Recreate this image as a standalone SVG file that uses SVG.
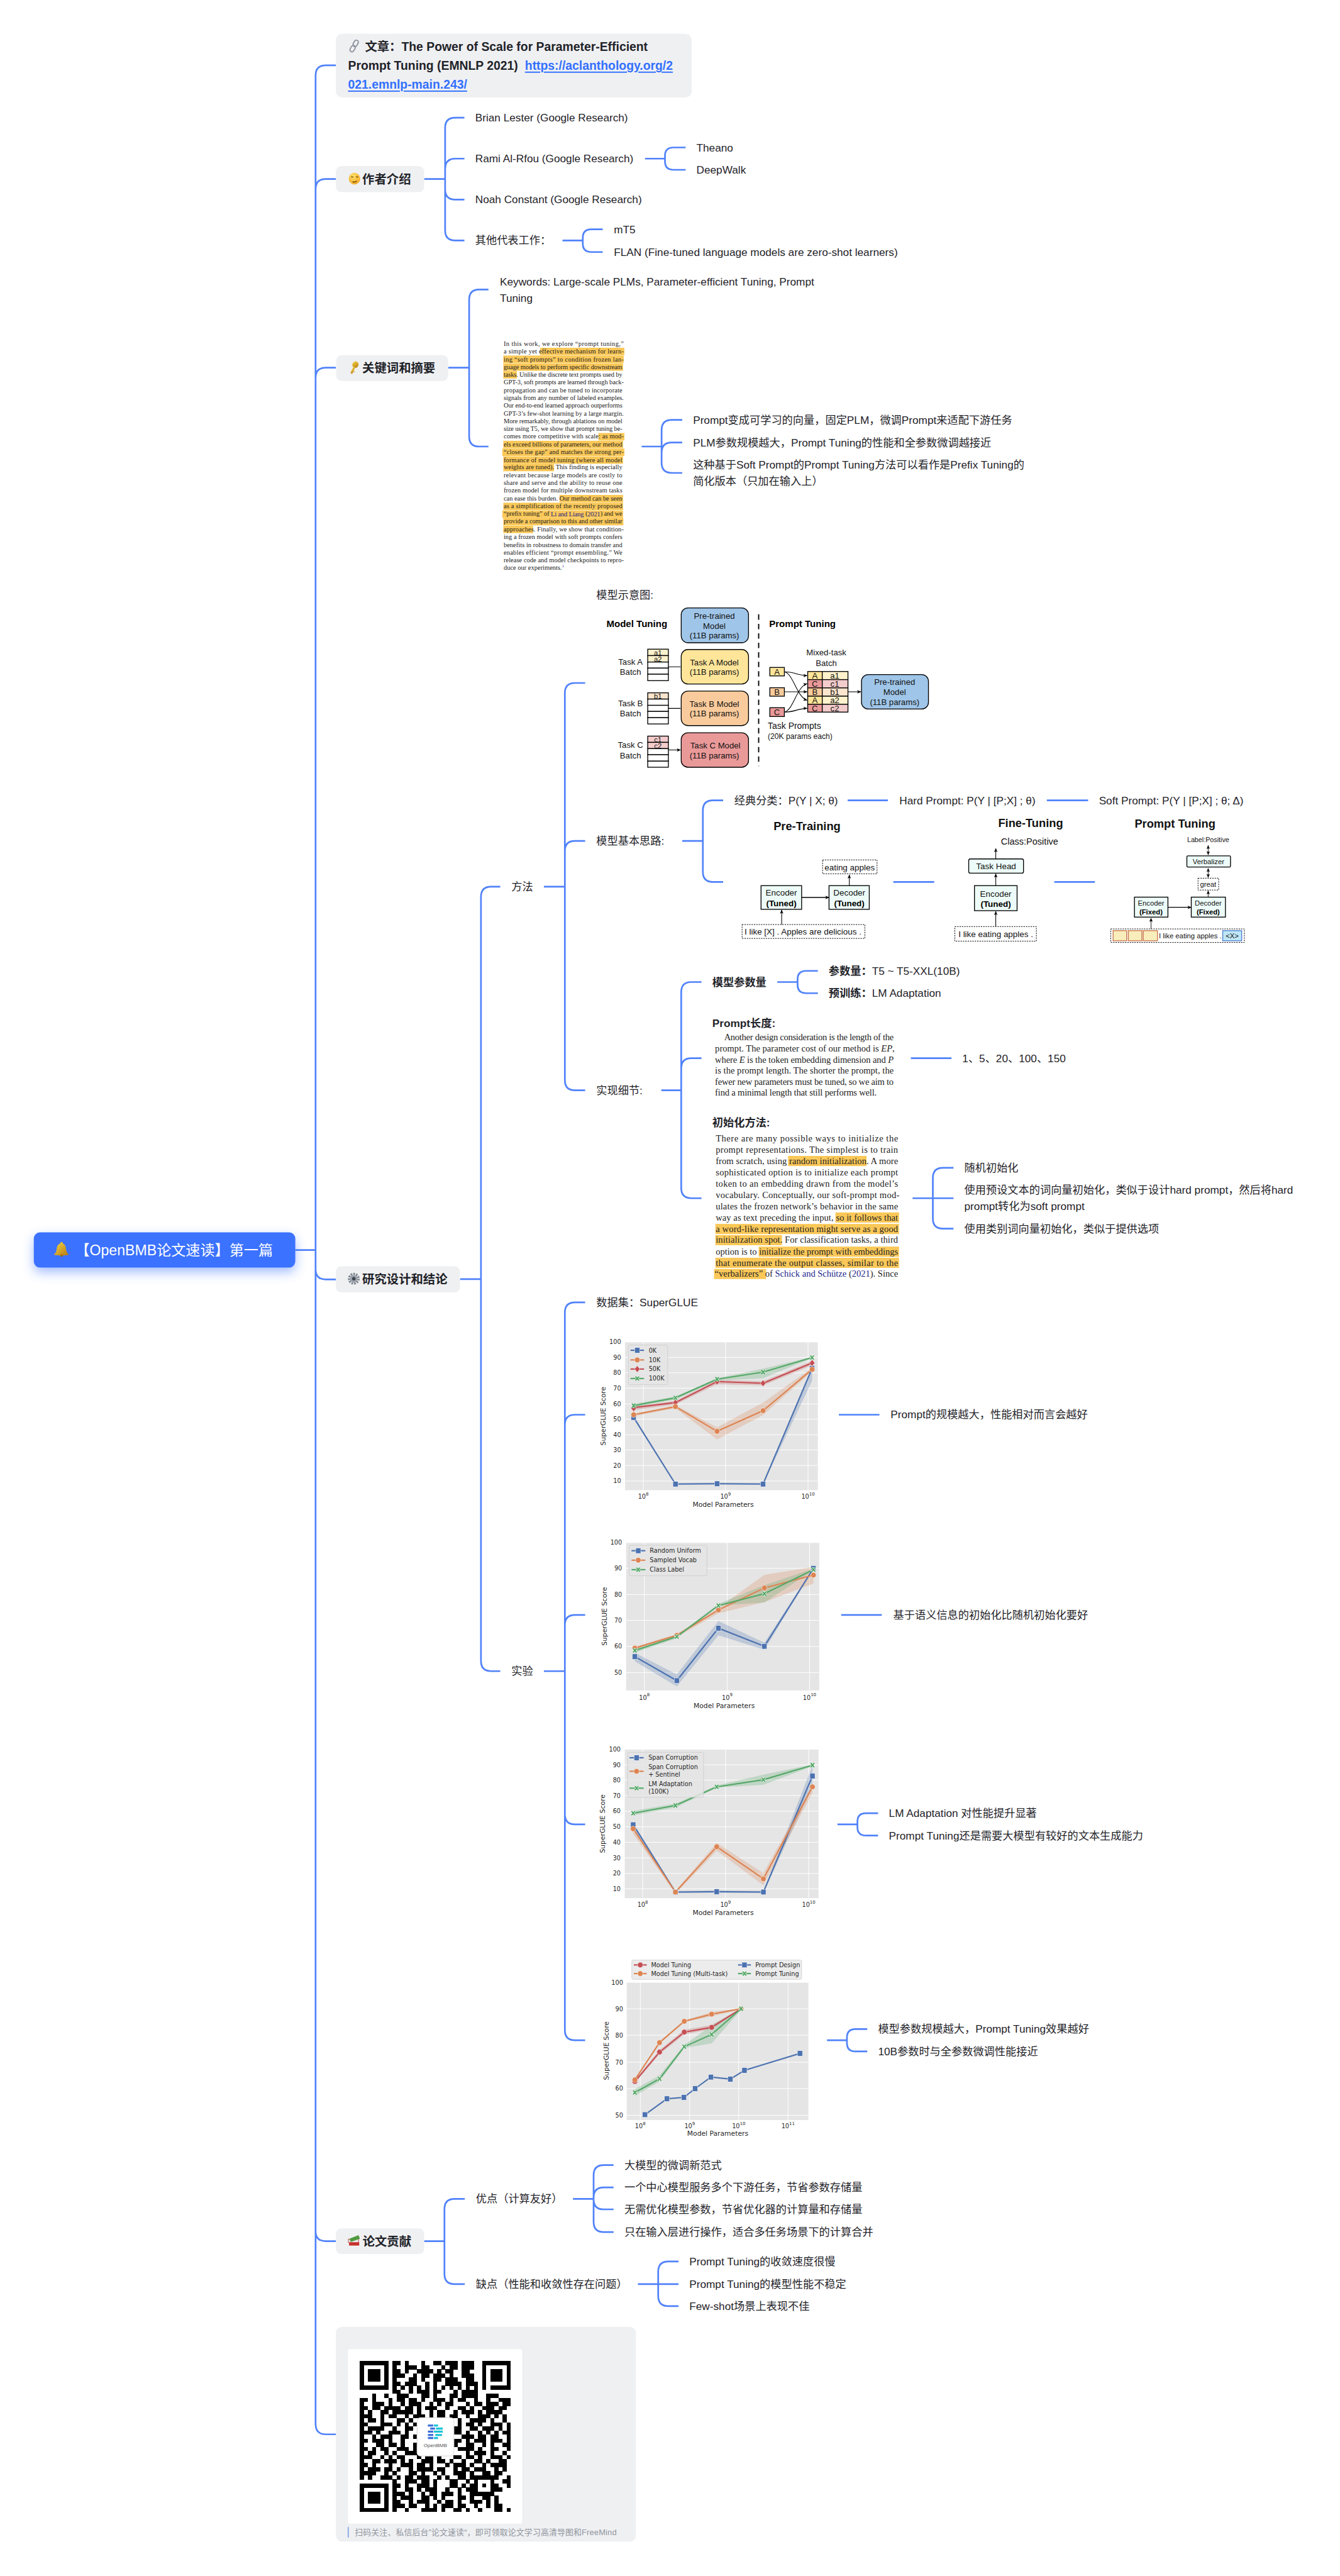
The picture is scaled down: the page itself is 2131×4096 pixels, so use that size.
<svg xmlns="http://www.w3.org/2000/svg" width="2131" height="4096" viewBox="0 0 2131 4096">
<style>
text{dominant-baseline:central;font-family:"Liberation Sans","Noto Sans CJK SC",sans-serif;fill:#1f2329;white-space:pre}
.t{font-size:32px}
.h{font-size:36px;font-weight:700}
.b{font-size:32px;font-weight:700}
.box{fill:#eff0f2}
.hl{fill:#fac858}
.p1{font-family:"Liberation Serif",serif;font-size:19.5px;fill:#222}
.p2{font-family:"Liberation Serif",serif;font-size:27px;fill:#222}
.nv{fill:#1b1f8a}
.m{font-size:24.5px;fill:#111;text-anchor:middle}
.mb{font-size:28px;font-weight:700;fill:#000}
.k{stroke:#000;stroke-width:2.5}
.ar{fill:none;stroke:#000;stroke-width:2;marker-end:url(#ah)}
.ar2{fill:none;stroke:#000;stroke-width:1.6;marker-end:url(#ah);marker-start:url(#ahs)}
.en{fill:#edfcf8;stroke:#000;stroke-width:2.5}
.ds{fill:#fff;stroke:#000;stroke-width:1.8;stroke-dasharray:4 3}
.e{font-size:25px;fill:#111;text-anchor:middle}
.eb{font-size:25px;fill:#000;font-weight:700;text-anchor:middle}
.hd{font-size:34px;font-weight:700;fill:#111;text-anchor:middle}
.c{font-family:"DejaVu Sans",sans-serif;font-size:18px;fill:#262626}
.cr{text-anchor:end}
.cm{text-anchor:middle}
.cl{font-family:"DejaVu Sans",sans-serif;font-size:20px;fill:#262626;text-anchor:middle}
.pl{fill:#e5e5e5}
.gr{fill:none;stroke:#fff;stroke-width:1.8}
.lg{fill:#e5e5e5;fill-opacity:.85;stroke:#ccc;stroke-width:1.5}
.s1{fill:none;stroke:#4c72b0;stroke-width:4}
.s2{fill:none;stroke:#dd8452;stroke-width:4}
.s3{fill:none;stroke:#c44e52;stroke-width:4}
.s4{fill:none;stroke:#55a868;stroke-width:4}
.f1{fill:#4c72b0;fill-opacity:.25}
.f2{fill:#dd8452;fill-opacity:.25}
.f3{fill:#c44e52;fill-opacity:.25}
.f4{fill:#55a868;fill-opacity:.25}
</style>
<defs>
<marker id="ah" markerUnits="userSpaceOnUse" markerWidth="14" markerHeight="12" refX="11" refY="5" orient="auto"><path d="M0 0L12 5L0 10L3 5Z" fill="#000"/></marker>
<marker id="ahs" markerUnits="userSpaceOnUse" markerWidth="14" markerHeight="12" refX="1" refY="5" orient="auto"><path d="M12 0L0 5L12 10L9 5Z" fill="#000"/></marker>
<filter id="sh" x="-15%" y="-40%" width="130%" height="190%"><feDropShadow dx="0" dy="14" stdDeviation="16" flood-color="#3370ff" flood-opacity=".45"/></filter>
<linearGradient id="gold" x1="0" y1="0" x2="1" y2="1"><stop offset="0" stop-color="#f6d84b"/><stop offset="1" stop-color="#b5780f"/></linearGradient>
<radialGradient id="face" cx=".4" cy=".3" r=".8"><stop offset="0" stop-color="#ffe26a"/><stop offset="1" stop-color="#f0a21e"/></radialGradient>
<g id="ms"><rect x="-7.5" y="-8" width="15" height="16" fill="#4c72b0" stroke="#fff"/></g>
<g id="mo"><circle r="8" fill="#dd8452" stroke="#fff"/></g>
<g id="mr"><circle r="8" fill="#c44e52" stroke="#fff"/></g>
<g id="md"><path d="M0-10L8 0L0 10L-8 0Z" fill="#c44e52" stroke="#fff"/></g>
<g id="mx"><path d="M-5-6L5 6M5-6L-5 6" stroke="#fff" stroke-width="6.5" fill="none"/><path d="M-5-6L5 6M5-6L-5 6" stroke="#55a868" stroke-width="4" fill="none"/></g>
</defs>
<rect width="2131" height="4096" fill="#fff"/>
<g transform="scale(0.5379)">

<g id="connectors" fill="none" stroke="#5082fa" stroke-width="5">
<path d="M873 3695H933M993 193H963Q933 193 933 223V7166Q933 7196 963 7196H993M993 529H963Q933 529 933 559M993 1087H963Q933 1087 933 1117M993 3782H963Q933 3782 933 3752M993 6625H963Q933 6625 933 6595"/>
<path d="M1254 529H1316M1373 348H1346Q1316 348 1316 378V681Q1316 711 1346 711H1373M1373 469H1346Q1316 469 1316 499M1373 590H1346Q1316 590 1316 560"/>
<path d="M1907 469H1966M2027 436H1991Q1966 436 1966 461V477Q1966 502 1991 502H2027"/>
<path d="M1663 711H1723M1782 678H1748Q1723 678 1723 703V720Q1723 745 1748 745H1782"/>
<path d="M1325 1087H1387M1444 856H1417Q1387 856 1387 886V1290Q1387 1320 1417 1320H1444"/>
<path d="M1897 1320H1956M2017 1241H1986Q1956 1241 1956 1271V1368Q1956 1398 1986 1398H2017M2017 1308H1986Q1956 1308 1956 1338"/>
<path d="M1360 3781H1422M1479 2621H1452Q1422 2621 1422 2651V4910Q1422 4940 1452 4940H1479"/>
<path d="M1608 2621H1670M1730 2019H1700Q1670 2019 1670 2049V3193Q1670 3223 1700 3223H1730M1730 2486H1700Q1670 2486 1670 2516"/>
<path d="M1608 4940H1670M1730 3850H1700Q1670 3850 1670 3880V6001Q1670 6031 1700 6031H1730M1730 4182H1700Q1670 4182 1670 4212M1730 4774H1700Q1670 4774 1670 4804M1730 5393H1700Q1670 5393 1670 5363"/>
<path d="M2017 2486H2078M2138 2366H2108Q2078 2366 2078 2396V2577Q2078 2607 2108 2607H2138M2506 2366H2625M3095 2366H3217M2641 2607H2762M3117 2607H3237"/>
<path d="M1955 3223H2014M2074 2903H2044Q2014 2903 2014 2933V3512Q2014 3542 2044 3542H2074M2074 3128H2044Q2014 3128 2014 3158"/>
<path d="M2298 2903H2358M2418 2870H2383Q2358 2870 2358 2895V2911Q2358 2936 2383 2936H2418M2693 3128H2813"/>
<path d="M2698 3542H2819M2819 3452H2788Q2758 3452 2758 3482V3602Q2758 3632 2788 3632H2819"/>
<path d="M2480 4182H2600M2487 4774H2607"/>
<path d="M2476 5393H2535M2596 5360H2560Q2535 5360 2535 5385V5401Q2535 5426 2560 5426H2596"/>
<path d="M2445 6031H2504M2564 5998H2529Q2504 5998 2504 6023V6039Q2504 6064 2529 6064H2564"/>
<path d="M1254 6625H1314M1374 6500H1344Q1314 6500 1314 6530V6722Q1314 6752 1344 6752H1374"/>
<path d="M1694 6500H1755M1814 6400H1785Q1755 6400 1755 6430V6568Q1755 6598 1785 6598H1814M1814 6466H1785Q1755 6466 1755 6496M1814 6531H1785Q1755 6531 1755 6501"/>
<path d="M1886 6752H1946M2006 6685H1976Q1946 6685 1946 6715V6787Q1946 6817 1976 6817H2006M1946 6752H2006"/>
</g>

<g id="root">
<rect x="100" y="3643" width="773" height="104" rx="18" fill="#3a72ff" filter="url(#sh)"/>
<path d="M182 3671c3 0 4 3 4 5c9 3 9 14 10 20c1 6 4 9 8 13c-8 3-38 3-45 0c4-4 7-7 8-13c1-6 1-17 11-20c0-2 1-5 4-5Z" fill="url(#gold)"/>
<circle cx="182" cy="3711" r="4" fill="#a8700c"/>
<text x="222" y="3695" style="font-size:43px;fill:#fff">【OpenBMB论文速读】第一篇</text>
</g>

<g id="n-article">
<rect class="box" x="993" y="100" width="1052" height="188" rx="18"/>
<g transform="translate(1047 136) rotate(30)" fill="none" stroke="#8d949e" stroke-width="3.5"><rect x="-6" y="-19" width="12" height="20" rx="6"/><rect x="-6" y="-1" width="12" height="20" rx="6"/></g>
<text class="h" x="1079" y="137">文章：The Power of Scale for Parameter-Efficient</text>
<text class="h" x="1029" y="193">Prompt Tuning (EMNLP 2021)</text>
<text class="h" x="1552" y="193" style="fill:#3370ff;text-decoration:underline">https://aclanthology.org/2</text>
<text class="h" x="1029" y="249" style="fill:#3370ff;text-decoration:underline">021.emnlp-main.243/</text>
</g>

<g id="n-authors">
<rect class="box" x="993" y="491" width="261" height="77" rx="16"/>
<circle cx="1048" cy="528" r="17" fill="url(#face)"/>
<path d="M1038 523h7M1052 523h7M1042 537q7 3 13-2" fill="none" stroke="#6a3d00" stroke-width="2.5"/>
<text class="h" x="1071" y="529">作者介绍</text>
</g>
<g id="n-brian"><text class="t" x="1405" y="348">Brian Lester (Google Research)</text></g>
<g id="n-rami"><text class="t" x="1405" y="469">Rami Al-Rfou (Google Research)</text></g>
<g id="n-theano"><text class="t" x="2059" y="436">Theano</text></g>
<g id="n-deepwalk"><text class="t" x="2059" y="502">DeepWalk</text></g>
<g id="n-noah"><text class="t" x="1405" y="590">Noah Constant (Google Research)</text></g>
<g id="n-other"><text class="t" x="1405" y="711">其他代表工作：</text></g>
<g id="n-mt5"><text class="t" x="1815" y="678">mT5</text></g>
<g id="n-flan"><text class="t" x="1815" y="745">FLAN (Fine-tuned language models are zero-shot learners)</text></g>

<g id="n-keyabs">
<rect class="box" x="994" y="1050" width="331" height="76" rx="16"/>
<g transform="translate(1047 1086) rotate(25)" fill="url(#gold)"><ellipse cx="0" cy="-9" rx="9" ry="10"/><rect x="-3" y="-2" width="6" height="22"/><rect x="0" y="10" width="7" height="3"/></g>
<text class="h" x="1071" y="1087">关键词和摘要</text>
</g>
<g id="n-keywords"><text class="t" x="1478" y="832">Keywords: Large-scale PLMs, Parameter-efficient Tuning, Prompt</text><text class="t" x="1478" y="881">Tuning</text></g>

<g id="n-abstract">
<g class="hl">
<rect x="1597" y="1028" width="249" height="22"/><rect x="1488" y="1051" width="356" height="22"/><rect x="1488" y="1074" width="354" height="22"/><rect x="1488" y="1097" width="40" height="22"/>
<rect x="1769" y="1280" width="77" height="22"/><rect x="1488" y="1303" width="354" height="22"/><rect x="1485" y="1326" width="361" height="22"/><rect x="1488" y="1349" width="354" height="22"/><rect x="1488" y="1371" width="150" height="22"/>
<rect x="1654" y="1463" width="188" height="22"/><rect x="1488" y="1486" width="354" height="22"/><rect x="1485" y="1509" width="357" height="22"/><rect x="1488" y="1531" width="355" height="22"/><rect x="1488" y="1554" width="88" height="22"/>
</g>
<g class="ab">
<text class="p1" x="1489" y="1016" textLength="355">In this work, we explore “prompt tuning,”</text>
<text class="p1" x="1489" y="1039" textLength="355">a simple yet effective mechanism for learn-</text>
<text class="p1" x="1489" y="1062" textLength="355">ing “soft prompts” to condition frozen lan-</text>
<text class="p1" x="1489" y="1085" textLength="351">guage models to perform specific downstream</text>
<text class="p1" x="1489" y="1107" textLength="351">tasks. Unlike the discrete text prompts used by</text>
<text class="p1" x="1489" y="1130" textLength="355">GPT-3, soft prompts are learned through back-</text>
<text class="p1" x="1489" y="1153" textLength="351">propagation and can be tuned to incorporate</text>
<text class="p1" x="1489" y="1176" textLength="355">signals from any number of labeled examples.</text>
<text class="p1" x="1489" y="1199" textLength="351">Our end-to-end learned approach outperforms</text>
<text class="p1" x="1489" y="1222" textLength="355">GPT-3’s few-shot learning by a large margin.</text>
<text class="p1" x="1489" y="1244" textLength="351">More remarkably, through ablations on model</text>
<text class="p1" x="1489" y="1267" textLength="351">size using T5, we show that prompt tuning be-</text>
<text class="p1" x="1489" y="1290" textLength="355">comes more competitive with scale: as mod-</text>
<text class="p1" x="1489" y="1313" textLength="351">els exceed billions of parameters, our method</text>
<text class="p1" x="1489" y="1336" textLength="355">“closes the gap” and matches the strong per-</text>
<text class="p1" x="1489" y="1359" textLength="351">formance of model tuning (where all model</text>
<text class="p1" x="1489" y="1381" textLength="351">weights are tuned). This finding is especially</text>
<text class="p1" x="1489" y="1404" textLength="351">relevant because large models are costly to</text>
<text class="p1" x="1489" y="1427" textLength="351">share and serve and the ability to reuse one</text>
<text class="p1" x="1489" y="1450" textLength="351">frozen model for multiple downstream tasks</text>
<text class="p1" x="1489" y="1473" textLength="351">can ease this burden. Our method can be seen</text>
<text class="p1" x="1489" y="1496" textLength="351">as a simplification of the recently proposed</text>
<text class="p1" x="1489" y="1518" textLength="351">“prefix tuning” of <tspan class="nv">Li and Liang</tspan> (<tspan class="nv">2021</tspan>) and we</text>
<text class="p1" x="1489" y="1541" textLength="351">provide a comparison to this and other similar</text>
<text class="p1" x="1489" y="1564" textLength="355">approaches. Finally, we show that condition-</text>
<text class="p1" x="1489" y="1587" textLength="351">ing a frozen model with soft prompts confers</text>
<text class="p1" x="1489" y="1610" textLength="351">benefits in robustness to domain transfer and</text>
<text class="p1" x="1489" y="1633" textLength="351">enables efficient “prompt ensembling.” We</text>
<text class="p1" x="1489" y="1655" textLength="355">release code and model checkpoints to repro-</text>
<text class="p1" x="1489" y="1678">duce our experiments.<tspan dy="-6" style="font-size:12px" class="nv">1</tspan></text>
</g>
</g>
<g id="n-abs1"><text class="t" x="2049" y="1241">Prompt变成可学习的向量，固定PLM，微调Prompt来适配下游任务</text></g>
<g id="n-abs2"><text class="t" x="2049" y="1308">PLM参数规模越大，Prompt Tuning的性能和全参数微调越接近</text></g>
<g id="n-abs3"><text class="t" x="2049" y="1374">这种基于Soft Prompt的Prompt Tuning方法可以看作是Prefix Tuning的</text><text class="t" x="2049" y="1422">简化版本（只加在输入上）</text></g>

<g id="n-research">
<rect class="box" x="993" y="3743" width="367" height="77" rx="16"/>
<circle cx="1046" cy="3780" r="14" fill="none" stroke="#7f8791" stroke-width="7" stroke-dasharray="5 3"/>
<circle cx="1046" cy="3780" r="11" fill="#9aa1aa"/><circle cx="1046" cy="3780" r="5" fill="#3d434b"/>
<text class="h" x="1071" y="3782">研究设计和结论</text>
</g>
<g id="n-method"><text class="t" x="1512" y="2621">方法</text></g>
<g id="n-exp"><text class="t" x="1512" y="4940">实验</text></g>

<g id="n-modelfig">
<text class="t" x="1763" y="1759">模型示意图:</text>
<text class="mb" x="1793" y="1844">Model Tuning</text>
<text class="mb" x="2274" y="1844">Prompt Tuning</text>
<path d="M2243 1816V2265" stroke="#000" stroke-width="3.5" stroke-dasharray="16 12" fill="none"/>
<rect class="k" x="2014" y="1797" width="199" height="103" rx="20" fill="#9fc5e8"/>
<text class="m" x="2112" y="1821">Pre-trained</text><text class="m" x="2112" y="1850">Model</text><text class="m" x="2112" y="1879">(11B params)</text>
<rect class="k" x="2014" y="1920" width="199" height="102" rx="20" fill="#ffe599"/>
<text class="m" x="2112" y="1958">Task A Model</text><text class="m" x="2112" y="1987">(11B params)</text>
<rect class="k" x="2014" y="2043" width="199" height="102" rx="20" fill="#f9cb9c"/>
<text class="m" x="2112" y="2081">Task B Model</text><text class="m" x="2112" y="2110">(11B params)</text>
<rect class="k" x="2014" y="2166" width="199" height="102" rx="20" fill="#ea9999"/>
<text class="m" x="2115" y="2204">Task C Model</text><text class="m" x="2112" y="2233">(11B params)</text>
<text class="m" x="1864" y="1957">Task A</text><text class="m" x="1864" y="1987">Batch</text>
<text class="m" x="1864" y="2080">Task B</text><text class="m" x="1864" y="2110">Batch</text>
<text class="m" x="1864" y="2203">Task C</text><text class="m" x="1864" y="2233">Batch</text>
<g class="k" fill="#fff">
<rect x="1915" y="1919" width="61" height="19" fill="#fff2cc"/><rect x="1915" y="1938" width="61" height="19" fill="#fff2cc"/><rect x="1915" y="1957" width="61" height="18"/><rect x="1915" y="1975" width="61" height="18"/><rect x="1915" y="1993" width="61" height="19"/>
<rect x="1915" y="2048" width="61" height="18.500" fill="#fce5cd"/><rect x="1915" y="2066.500" width="61" height="18.500"/><rect x="1915" y="2085" width="61" height="18"/><rect x="1915" y="2103" width="61" height="18.500"/><rect x="1915" y="2121.500" width="61" height="18.500"/>
<rect x="1915" y="2176" width="61" height="18.500" fill="#f4cccc"/><rect x="1915" y="2194.500" width="61" height="18.500" fill="#f4cccc"/><rect x="1915" y="2213" width="61" height="18"/><rect x="1915" y="2231" width="61" height="19"/><rect x="1915" y="2250" width="61" height="18"/>
</g>
<text class="m" x="1945" y="1930" style="font-size:21px">a1</text><text class="m" x="1945" y="1948" style="font-size:21px">a2</text>
<text class="m" x="1945" y="2058" style="font-size:21px">b1</text>
<text class="m" x="1945" y="2187" style="font-size:21px">c1</text><text class="m" x="1945" y="2205" style="font-size:21px">c2</text>
<path class="ar" d="M1976 1971H2012M1976 2094H2012M1976 2217H2012"/>
<g class="k">
<rect x="2276" y="1973" width="43" height="25" fill="#ffe599"/><rect x="2276" y="2033" width="43" height="25" fill="#f9cb9c"/><rect x="2276" y="2092" width="43" height="26" fill="#ea9999"/>
<rect x="2388" y="1985" width="43" height="24" fill="#ffe599"/><rect x="2431" y="1985" width="76" height="24" fill="#fff2cc"/>
<rect x="2388" y="2009" width="43" height="24.500" fill="#ea9999"/><rect x="2431" y="2009" width="76" height="24.500" fill="#f4cccc"/>
<rect x="2388" y="2033.500" width="43" height="24.500" fill="#f9cb9c"/><rect x="2431" y="2033.500" width="76" height="24.500" fill="#fce5cd"/>
<rect x="2388" y="2058" width="43" height="24" fill="#ffe599"/><rect x="2431" y="2058" width="76" height="24" fill="#fff2cc"/>
<rect x="2388" y="2082" width="43" height="23" fill="#ea9999"/><rect x="2431" y="2082" width="76" height="23" fill="#f4cccc"/>
</g>
<text class="m" x="2297" y="1986">A</text><text class="m" x="2297" y="2045">B</text><text class="m" x="2297" y="2105">C</text>
<text class="m" x="2409" y="1997">A</text><text class="m" x="2468" y="1997">a1</text>
<text class="m" x="2409" y="2021">C</text><text class="m" x="2468" y="2021">c1</text>
<text class="m" x="2409" y="2045">B</text><text class="m" x="2468" y="2045">b1</text>
<text class="m" x="2409" y="2070">A</text><text class="m" x="2468" y="2070">a2</text>
<text class="m" x="2409" y="2094">C</text><text class="m" x="2468" y="2094">c2</text>
<path class="ar" d="M2319 1986C2350 1986 2360 1997 2386 1997"/>
<path class="ar" d="M2319 1986C2345 1990 2355 2060 2386 2070"/>
<path class="ar" d="M2319 2045H2386"/>
<path class="ar" d="M2319 2105C2345 2100 2355 2030 2386 2021"/>
<path class="ar" d="M2319 2105C2350 2105 2360 2094 2386 2094"/>
<path class="ar" d="M2507 2045H2545"/>
<text class="m" x="2443" y="1928">Mixed-task</text><text class="m" x="2443" y="1961">Batch</text>
<rect class="k" x="2547" y="1994" width="198" height="102" rx="20" fill="#9fc5e8"/>
<text class="m" x="2645" y="2017">Pre-trained</text><text class="m" x="2645" y="2046">Model</text><text class="m" x="2645" y="2075">(11B params)</text>
<text x="2270" y="2145" style="font-size:26px;fill:#111">Task Prompts</text>
<text x="2270" y="2177" style="font-size:22.500px;fill:#111">(20K params each)</text>
</g>

<g id="n-idea"><text class="t" x="1763" y="2486">模型基本思路:</text></g>
<g id="n-cls"><text class="t" x="2171" y="2366">经典分类：P(Y | X; θ)</text></g>
<g id="n-hard"><text class="t" x="2659" y="2366">Hard Prompt: P(Y | [P;X] ; θ)</text></g>
<g id="n-soft"><text class="t" x="3249" y="2366">Soft Prompt: P(Y | [P;X] ; θ; Δ)</text></g>

<g id="n-pretrain">
<text class="hd" x="2386" y="2441">Pre-Training</text>
<rect class="en" x="2250" y="2618" width="120" height="70"/><rect class="en" x="2451" y="2618" width="119" height="70"/>
<text class="e" x="2310" y="2639">Encoder</text><text class="eb" x="2310" y="2670">(Tuned)</text>
<text class="e" x="2511" y="2639">Decoder</text><text class="eb" x="2511" y="2670">(Tuned)</text>
<path class="ar" style="stroke-width:3" d="M2370 2653H2451"/>
<path class="ar" d="M2511 2618V2586"/>
<path class="ar" d="M2311 2733V2690"/>
<rect class="ds" x="2432" y="2542" width="161" height="41"/><text class="e" x="2512" y="2564">eating apples</text>
<rect class="ds" x="2194" y="2733" width="363" height="41"/><text class="e" x="2374" y="2755">I like [X] . Apples are delicious .</text>
</g>
<g id="n-finetune">
<text class="hd" x="3047" y="2432">Fine-Tuning</text>
<text class="e" x="3044" y="2487" style="font-size:27px">Class:Positive</text>
<rect class="en" x="2864" y="2539" width="162" height="42" rx="5"/><text class="e" x="2945" y="2561">Task Head</text>
<rect class="en" x="2881" y="2618" width="126" height="74"/>
<text class="e" x="2944" y="2642">Encoder</text><text class="eb" x="2944" y="2672">(Tuned)</text>
<path class="ar" d="M2944 2539V2508"/>
<path class="ar" d="M2944 2618V2583"/>
<path class="ar" d="M2944 2739V2694"/>
<rect class="ds" x="2823" y="2739" width="241" height="43"/><text class="e" x="2944" y="2762">I like eating apples .</text>
</g>
<g id="n-prompttune">
<text class="hd" x="3474" y="2435">Prompt Tuning</text>
<text class="e" x="3572" y="2481" style="font-size:20px">Label:Positive</text>
<path class="ar2" d="M3572 2499V2527"/>
<rect class="en" x="3509" y="2530" width="129" height="33" rx="3"/><text class="e" x="3573" y="2547" style="font-size:21px">Verbalizer</text>
<path class="ar2" d="M3572 2567V2594"/>
<rect class="ds" x="3542" y="2596" width="61" height="35"/><text class="e" x="3572" y="2613" style="font-size:21px">great</text>
<path class="ar" style="stroke-width:1.600" d="M3572 2652V2633"/>
<rect class="en" x="3354" y="2652" width="99" height="59"/><rect class="en" x="3522" y="2652" width="101" height="59"/>
<text class="e" x="3403" y="2670" style="font-size:21px">Encoder</text><text class="eb" x="3403" y="2695" style="font-size:21px">(Fixed)</text>
<text class="e" x="3572" y="2670" style="font-size:21px">Decoder</text><text class="eb" x="3572" y="2695" style="font-size:21px">(Fixed)</text>
<path class="ar" d="M3453 2682H3522"/>
<path class="ar" style="stroke-width:1.600" d="M3403 2746V2714"/>
<rect class="ds" x="3284" y="2746" width="395" height="40"/>
<g fill="#f9edbc" stroke="#c9744a" stroke-width="2.500"><rect x="3291" y="2751" width="40" height="30"/><rect x="3336" y="2751" width="40" height="30"/><rect x="3380" y="2751" width="42" height="30"/></g>
<text class="e" x="3519" y="2767" style="font-size:21px">I like eating apples .</text>
<rect x="3615" y="2751" width="56" height="30" fill="#bfe6f5" stroke="#4a7fcf" stroke-width="2.500"/><text class="e" x="3643" y="2766" style="font-size:21px">&lt;X&gt;</text>
</g>

<g id="n-impl"><text class="t" x="1763" y="3223">实现细节:</text></g>
<g id="n-size"><text class="b" x="2106" y="2903">模型参数量</text></g>
<g id="n-size1"><text class="t" x="2450" y="2870"><tspan font-weight="700">参数量：</tspan>T5 ~ T5-XXL(10B)</text></g>
<g id="n-size2"><text class="t" x="2450" y="2936"><tspan font-weight="700">预训练：</tspan>LM Adaptation</text></g>
<g id="n-len">
<text class="b" x="2106" y="3024">Prompt长度:</text>
<text class="p2" x="2141" y="3066" textLength="501">Another design consideration is the length of the</text>
<text class="p2" x="2114" y="3099" textLength="531">prompt. The parameter cost of our method is <tspan font-style="italic">EP</tspan>,</text>
<text class="p2" x="2114" y="3132" textLength="528">where <tspan font-style="italic">E</tspan> is the token embedding dimension and <tspan font-style="italic">P</tspan></text>
<text class="p2" x="2114" y="3165" textLength="528">is the prompt length. The shorter the prompt, the</text>
<text class="p2" x="2114" y="3198" textLength="528">fewer new parameters must be tuned, so we aim to</text>
<text class="p2" x="2114" y="3230" textLength="478">find a minimal length that still performs well.</text>
</g>
<g id="n-lenv"><text class="t" x="2845" y="3128">1、5、20、100、150</text></g>
<g id="n-init">
<text class="b" x="2106" y="3318">初始化方法:</text>
<g class="hl"><rect x="2330" y="3417" width="232" height="30"/><rect x="2470" y="3584" width="188" height="30"/><rect x="2115" y="3618" width="543" height="30"/><rect x="2115" y="3651" width="197" height="30"/><rect x="2243" y="3685" width="415" height="30"/><rect x="2115" y="3718" width="543" height="30"/><rect x="2111" y="3751" width="154" height="30"/></g>
<text class="p2" x="2116" y="3365" textLength="539">There are many possible ways to initialize the</text>
<text class="p2" x="2116" y="3398" textLength="539">prompt representations. The simplest is to train</text>
<text class="p2" x="2116" y="3432" textLength="539">from scratch, using random initialization. A more</text>
<text class="p2" x="2116" y="3465" textLength="539">sophisticated option is to initialize each prompt</text>
<text class="p2" x="2116" y="3499" textLength="539">token to an embedding drawn from the model’s</text>
<text class="p2" x="2116" y="3532" textLength="543">vocabulary. Conceptually, our soft-prompt mod-</text>
<text class="p2" x="2116" y="3565" textLength="539">ulates the frozen network’s behavior in the same</text>
<text class="p2" x="2116" y="3599" textLength="539">way as text preceding the input, so it follows that</text>
<text class="p2" x="2116" y="3633" textLength="539">a word-like representation might serve as a good</text>
<text class="p2" x="2116" y="3665" textLength="539">initialization spot. For classification tasks, a third</text>
<text class="p2" x="2116" y="3699" textLength="539">option is to initialize the prompt with embeddings</text>
<text class="p2" x="2116" y="3733" textLength="539">that enumerate the output classes, similar to the</text>
<text class="p2" x="2113" y="3765" textLength="542">“verbalizers” of <tspan class="nv">Schick and Schütze</tspan> (<tspan class="nv">2021</tspan>). Since</text>
</g>
<g id="n-init1"><text class="t" x="2851" y="3452">随机初始化</text></g>
<g id="n-init2"><text class="t" x="2851" y="3517">使用预设文本的词向量初始化，类似于设计hard prompt，然后将hard</text><text class="t" x="2851" y="3566">prompt转化为soft prompt</text></g>
<g id="n-init3"><text class="t" x="2851" y="3632">使用类别词向量初始化，类似于提供选项</text></g>

<g id="n-data"><text class="t" x="1763" y="3850">数据集：SuperGLUE</text></g>

<g id="chart1">
<rect class="pl" x="1848" y="3967" width="570" height="438"/>
<path class="gr" d="M1848 3967H2418M1848 4012.500H2418M1848 4058H2418M1848 4103.500H2418M1848 4150H2418M1848 4195H2418M1848 4241H2418M1848 4286H2418M1848 4332H2418M1848 4378H2418M1902 3967V4405M2145 3967V4405M2389 3967V4405"/>
<polygon class="f1" points="1873.500,4186 1997,4384 2120,4383 2256,4384 2401,4038 2401,4081 2256,4389 2120,4388 1997,4389 1873.500,4195"/>
<polygon class="f2" points="1873.500,4179 1997,4154 2120,4219 2256,4146 2401,4043 2401,4054 2256,4183 2120,4255 1997,4163 1873.500,4186"/>
<polygon class="f3" points="1873.500,4158 1997,4141 2120,4079 2256,4083 2401,4023 2401,4036 2256,4095 2120,4092 1997,4152 1873.500,4168"/>
<polygon class="f4" points="1873.500,4150 1997,4128 2120,4074 2256,4046 2401,4011 2401,4015 2256,4074 2120,4081 1997,4137 1873.500,4161"/>
<polyline class="s1" points="1873.500,4190 1997,4387 2120,4386 2256,4387 2401,4045"/>
<polyline class="s2" points="1873.500,4182 1997,4158 2120,4231 2256,4170 2401,4048"/>
<polyline class="s3" points="1873.500,4161 1997,4146 2120,4084 2256,4089 2401,4029"/>
<polyline class="s4" points="1873.500,4155 1997,4132 2120,4077 2256,4056 2401,4013"/>
<use href="#ms" x="1873.500" y="4190"/><use href="#ms" x="1997" y="4387"/><use href="#ms" x="2120" y="4386"/><use href="#ms" x="2256" y="4387"/><use href="#ms" x="2401" y="4045"/>
<use href="#md" x="1873.500" y="4163"/><use href="#md" x="1997" y="4146"/><use href="#md" x="2120" y="4084"/><use href="#md" x="2256" y="4089"/><use href="#md" x="2401" y="4029"/>
<use href="#mo" x="1873.500" y="4182"/><use href="#mo" x="1997" y="4158"/><use href="#mo" x="2120" y="4231"/><use href="#mo" x="2256" y="4170"/><use href="#mo" x="2401" y="4048"/>
<use href="#mx" x="1873.500" y="4155"/><use href="#mx" x="1997" y="4132"/><use href="#mx" x="2120" y="4077"/><use href="#mx" x="2256" y="4056"/><use href="#mx" x="2401" y="4013"/>
<rect class="lg" x="1858" y="3976" width="116" height="117" rx="4"/>
<path class="s1" d="M1864 3991.500H1904"/><use href="#ms" x="1884" y="3991.500"/><text class="c" x="1918" y="3991.500">0K</text>
<path class="s2" d="M1864 4020H1904"/><use href="#mo" x="1884" y="4020"/><text class="c" x="1918" y="4020">10K</text>
<path class="s3" d="M1864 4047H1904"/><use href="#md" x="1884" y="4047"/><text class="c" x="1918" y="4047">50K</text>
<path class="s4" d="M1864 4075H1904"/><use href="#mx" x="1884" y="4075"/><text class="c" x="1918" y="4075">100K</text>
<g class="ty"><text class="c cr" x="1836" y="3967">100</text><text class="c cr" x="1836" y="4012.500">90</text><text class="c cr" x="1836" y="4058">80</text><text class="c cr" x="1836" y="4103.500">70</text><text class="c cr" x="1836" y="4150">60</text><text class="c cr" x="1836" y="4195">50</text><text class="c cr" x="1836" y="4241">40</text><text class="c cr" x="1836" y="4286">30</text><text class="c cr" x="1836" y="4332">20</text><text class="c cr" x="1836" y="4378">10</text></g>
<text class="c cm" x="1902" y="4424">10<tspan dy="-7" style="font-size:13px">8</tspan></text><text class="c cm" x="2145" y="4424">10<tspan dy="-7" style="font-size:13px">9</tspan></text><text class="c cm" x="2389" y="4424">10<tspan dy="-7" style="font-size:13px">10</tspan></text>
<text class="cl" x="2138" y="4448">Model Parameters</text>
<text class="cl" transform="translate(1784 4186) rotate(-90)">SuperGLUE Score</text>
</g>
<g id="n-c1"><text class="t" x="2633" y="4182">Prompt的规模越大，性能相对而言会越好</text></g>

<g id="chart2">
<rect class="pl" x="1851" y="4560" width="571" height="437"/>
<path class="gr" d="M1851 4560H2422M1851 4636H2422M1851 4713.500H2422M1851 4790H2422M1851 4867H2422M1851 4944.500H2422M1905 4560V4997M2150 4560V4997M2393.500 4560V4997"/>
<polygon class="f1" points="1877,4885.500 2001,4949.600 2124,4792 2260,4856 2405,4634 2405,4638 2260,4877 2124,4834 2001,4985 1877,4911"/>
<polygon class="f2" points="1877,4868 2001,4830 2124,4753 2260,4655 2405,4632 2405,4681 2260,4736 2124,4769 2001,4839 1877,4878"/>
<polygon class="f4" points="1877,4874 2001,4835 2124,4741 2260,4686 2405,4637 2405,4642 2260,4737 2124,4746 2001,4843 1877,4885"/>
<polyline class="s1" points="1877,4897 2001,4968 2124,4813 2260,4866.500 2405,4636"/>
<polyline class="s2" points="1877,4872 2001,4834 2124,4759 2260,4694 2405,4656"/>
<polyline class="s4" points="1877,4879 2001,4838 2124,4746 2260,4711 2405,4640"/>
<use href="#ms" x="1877" y="4897"/><use href="#ms" x="2001" y="4968"/><use href="#ms" x="2124" y="4813"/><use href="#ms" x="2260" y="4866.500"/><use href="#ms" x="2405" y="4636"/>
<use href="#mo" x="1877" y="4872"/><use href="#mo" x="2001" y="4834"/><use href="#mo" x="2124" y="4759"/><use href="#mo" x="2260" y="4694"/><use href="#mo" x="2405" y="4656"/>
<use href="#mx" x="1877" y="4879"/><use href="#mx" x="2001" y="4838"/><use href="#mx" x="2124" y="4746"/><use href="#mx" x="2260" y="4711"/><use href="#mx" x="2405" y="4640"/>
<rect class="lg" x="1860" y="4568" width="230" height="90" rx="4"/>
<path class="s1" d="M1867 4584H1908"/><use href="#ms" x="1887" y="4584"/><text class="c" x="1921" y="4584">Random Uniform</text>
<path class="s2" d="M1867 4612H1908"/><use href="#mo" x="1887" y="4612"/><text class="c" x="1921" y="4612">Sampled Vocab</text>
<path class="s4" d="M1867 4640H1908"/><use href="#mx" x="1887" y="4640"/><text class="c" x="1921" y="4640">Class Label</text>
<g><text class="c cr" x="1839" y="4560">100</text><text class="c cr" x="1839" y="4636">90</text><text class="c cr" x="1839" y="4713.500">80</text><text class="c cr" x="1839" y="4790">70</text><text class="c cr" x="1839" y="4867">60</text><text class="c cr" x="1839" y="4944.500">50</text></g>
<text class="c cm" x="1905" y="5018">10<tspan dy="-7" style="font-size:13px">8</tspan></text><text class="c cm" x="2150" y="5018">10<tspan dy="-7" style="font-size:13px">9</tspan></text><text class="c cm" x="2393.500" y="5018">10<tspan dy="-7" style="font-size:13px">10</tspan></text>
<text class="cl" x="2141" y="5042">Model Parameters</text>
<text class="cl" transform="translate(1787 4778) rotate(-90)">SuperGLUE Score</text>
</g>
<g id="n-c2"><text class="t" x="2641" y="4774">基于语义信息的初始化比随机初始化要好</text></g>

<g id="chart3">
<rect class="pl" x="1847" y="5171" width="573" height="440"/>
<path class="gr" d="M1847 5171H2420M1847 5217H2420M1847 5262H2420M1847 5308H2420M1847 5354H2420M1847 5400H2420M1847 5446H2420M1847 5492H2420M1847 5538H2420M1847 5583H2420M1900 5171V5611M2145 5171V5611M2391 5171V5611"/>
<polygon class="f1" points="1872,5389 1997,5590 2119,5589 2257,5590 2402,5219 2402,5280 2257,5596 2119,5595 1997,5596 1872,5405"/>
<polygon class="f2" points="1872,5401 1997,5589 2119,5448 2257,5537 2402,5276 2402,5300 2257,5573 2119,5471 1997,5598 1872,5421"/>
<polygon class="f4" points="1872,5353 1997,5332 2119,5278 2257,5246 2402,5216 2402,5221 2257,5276 2119,5284 1997,5343 1872,5366"/>
<polyline class="s1" points="1872,5394 1997,5593 2119,5592 2257,5593 2402,5250"/>
<polyline class="s2" points="1872,5406 1997,5593 2119,5459 2257,5554 2402,5282"/>
<polyline class="s4" points="1872,5360 1997,5337 2119,5282 2257,5261 2402,5218"/>
<use href="#ms" x="1872" y="5394"/><use href="#ms" x="1997" y="5593"/><use href="#ms" x="2119" y="5592"/><use href="#ms" x="2257" y="5593"/><use href="#ms" x="2402" y="5250"/>
<use href="#mo" x="1872" y="5406"/><use href="#mo" x="1997" y="5593"/><use href="#mo" x="2119" y="5459"/><use href="#mo" x="2257" y="5554"/><use href="#mo" x="2402" y="5282"/>
<use href="#mx" x="1872" y="5360"/><use href="#mx" x="1997" y="5337"/><use href="#mx" x="2119" y="5282"/><use href="#mx" x="2257" y="5261"/><use href="#mx" x="2402" y="5218"/>
<rect class="lg" x="1856" y="5180" width="224" height="133" rx="4"/>
<path class="s1" d="M1861 5196H1903"/><use href="#ms" x="1882" y="5196"/><text class="c" x="1917" y="5196">Span Corruption</text>
<path class="s2" d="M1861 5236H1903"/><use href="#mo" x="1882" y="5236"/><text class="c" x="1917" y="5224">Span Corruption</text><text class="c" x="1917" y="5245">+ Sentinel</text>
<path class="s4" d="M1861 5286H1903"/><use href="#mx" x="1882" y="5286"/><text class="c" x="1917" y="5273.500">LM Adaptation</text><text class="c" x="1917" y="5295">(100K)</text>
<g><text class="c cr" x="1835" y="5171">100</text><text class="c cr" x="1835" y="5217">90</text><text class="c cr" x="1835" y="5262">80</text><text class="c cr" x="1835" y="5308">70</text><text class="c cr" x="1835" y="5354">60</text><text class="c cr" x="1835" y="5400">50</text><text class="c cr" x="1835" y="5446">40</text><text class="c cr" x="1835" y="5492">30</text><text class="c cr" x="1835" y="5538">20</text><text class="c cr" x="1835" y="5583">10</text></g>
<text class="c cm" x="1900" y="5630">10<tspan dy="-7" style="font-size:13px">8</tspan></text><text class="c cm" x="2145" y="5630">10<tspan dy="-7" style="font-size:13px">9</tspan></text><text class="c cm" x="2391" y="5630">10<tspan dy="-7" style="font-size:13px">10</tspan></text>
<text class="cl" x="2138" y="5655">Model Parameters</text>
<text class="cl" transform="translate(1782 5391) rotate(-90)">SuperGLUE Score</text>
</g>
<g id="n-c3a"><text class="t" x="2628" y="5360">LM Adaptation 对性能提升显著</text></g>
<g id="n-c3b"><text class="t" x="2628" y="5426">Prompt Tuning还是需要大模型有较好的文本生成能力</text></g>

<g id="chart4">
<rect class="pl" x="1853" y="5860" width="537" height="407"/>
<path class="gr" d="M1853 5860H2390M1853 5938H2390M1853 6016H2390M1853 6096H2390M1853 6174H2390M1853 6253H2390M1893 5860V6267M2039 5860V6267M2184 5860V6267M2330 5860V6267"/>
<polygon class="f3" points="1877,6148 1950,6060 2023,6000 2104,5986 2191,5936 2191,5940 2104,5998 2023,6014 1950,6072 1877,6158"/>
<polygon class="f2" points="1877,6145 1950,6035 2023,5972 2104,5948 2191,5936 2191,5940 2104,5960 2023,5978 1950,6041 1877,6151"/>
<polygon class="f4" points="1877,6175.600 1950,6135 2023,6045 2104,5987 2191,5938 2191,5941 2104,6040 2023,6054 1950,6153 1877,6196"/>
<polyline class="s3" points="1877,6153 1950,6066 2023,6007 2104,5993 2191,5938"/>
<polyline class="s2" points="1877,6148 1950,6038 2023,5975 2104,5954 2191,5938"/>
<polyline class="s4" points="1877,6185.500 1950,6145 2023,6050 2104,6014 2191,5938"/>
<polyline class="s1" points="1907,6251 1972,6204 2022,6200 2055,6174 2102,6140 2159,6146 2201,6120 2365,6070"/>
<use href="#ms" x="1907" y="6251"/><use href="#ms" x="1972" y="6204"/><use href="#ms" x="2022" y="6200"/><use href="#ms" x="2055" y="6174"/><use href="#ms" x="2102" y="6140"/><use href="#ms" x="2159" y="6146"/><use href="#ms" x="2201" y="6120"/><use href="#ms" x="2365" y="6070"/>
<use href="#mr" x="1877" y="6153"/><use href="#mr" x="1950" y="6066"/><use href="#mr" x="2023" y="6007"/><use href="#mr" x="2104" y="5993"/>
<use href="#mo" x="1877" y="6148"/><use href="#mo" x="1950" y="6038"/><use href="#mo" x="2023" y="5975"/><use href="#mo" x="2104" y="5954"/><use href="#mo" x="2191" y="5938"/>
<use href="#mx" x="1877" y="6185.500"/><use href="#mx" x="1950" y="6145"/><use href="#mx" x="2023" y="6050"/><use href="#mx" x="2104" y="6014"/><use href="#mx" x="2191" y="5938"/>
<rect x="1868" y="5794" width="502" height="57" rx="4" fill="#ececec" stroke="#ccc" stroke-width="1.500"/>
<path class="s3" d="M1874 5808.500H1912"/><use href="#mr" x="1893" y="5808.500"/><text class="c" x="1925" y="5808.500">Model Tuning</text>
<path class="s2" d="M1874 5834H1912"/><use href="#mo" x="1893" y="5834"/><text class="c" x="1925" y="5834">Model Tuning (Multi-task)</text>
<path class="s1" d="M2182 5808.500H2220"/><use href="#ms" x="2201" y="5808.500"/><text class="c" x="2233" y="5808.500">Prompt Design</text>
<path class="s4" d="M2182 5834H2220"/><use href="#mx" x="2201" y="5834"/><text class="c" x="2233" y="5834">Prompt Tuning</text>
<g><text class="c cr" x="1842" y="5860">100</text><text class="c cr" x="1842" y="5938">90</text><text class="c cr" x="1842" y="6016">80</text><text class="c cr" x="1842" y="6096">70</text><text class="c cr" x="1842" y="6174">60</text><text class="c cr" x="1842" y="6253">50</text></g>
<text class="c cm" x="1893" y="6285">10<tspan dy="-7" style="font-size:13px">8</tspan></text><text class="c cm" x="2039" y="6285">10<tspan dy="-7" style="font-size:13px">9</tspan></text><text class="c cm" x="2184" y="6285">10<tspan dy="-7" style="font-size:13px">10</tspan></text><text class="c cm" x="2330" y="6285">10<tspan dy="-7" style="font-size:13px">11</tspan></text>
<text class="cl" x="2122" y="6307">Model Parameters</text>
<text class="cl" transform="translate(1793 6062) rotate(-90)">SuperGLUE Score</text>
</g>
<g id="n-c4a"><text class="t" x="2596" y="5998">模型参数规模越大，Prompt Tuning效果越好</text></g>
<g id="n-c4b"><text class="t" x="2596" y="6064">10B参数时与全参数微调性能接近</text></g>

<g id="n-contrib">
<rect class="box" x="993" y="6587" width="261" height="76" rx="16"/>
<g><rect x="1032" y="6628" width="30" height="10" fill="#c9302c"/><rect x="1030" y="6619" width="30" height="10" fill="#e8e8e8" stroke="#b33" stroke-width="1.500"/><path d="M1033 6618L1060 6607L1064 6618L1037 6627Z" fill="#4e9a3f"/></g>
<text class="h" x="1072" y="6625">论文贡献</text>
</g>
<g id="n-pro"><text class="t" x="1407" y="6500">优点（计算友好）</text></g>
<g id="n-con"><text class="t" x="1407" y="6752">缺点（性能和收敛性存在问题）</text></g>
<g id="n-pro1"><text class="t" x="1846" y="6400">大模型的微调新范式</text></g>
<g id="n-pro2"><text class="t" x="1846" y="6466">一个中心模型服务多个下游任务，节省参数存储量</text></g>
<g id="n-pro3"><text class="t" x="1846" y="6531">无需优化模型参数，节省优化器的计算量和存储量</text></g>
<g id="n-pro4"><text class="t" x="1846" y="6598">只在输入层进行操作，适合多任务场景下的计算合并</text></g>
<g id="n-con1"><text class="t" x="2038" y="6685">Prompt Tuning的收敛速度很慢</text></g>
<g id="n-con2"><text class="t" x="2038" y="6752">Prompt Tuning的模型性能不稳定</text></g>
<g id="n-con3"><text class="t" x="2038" y="6817">Few-shot场景上表现不佳</text></g>

<g id="n-qr">
<rect class="box" x="993" y="6878" width="887" height="635" rx="18"/>
<rect x="1029" y="6944" width="515" height="516" rx="6" fill="#fff"/>
<g transform="translate(1064 6980) scale(12.05)" fill="none" stroke="#000" stroke-width="1.03" shape-rendering="crispEdges">
<path d="M0 .5H37" stroke-dasharray="7 1 2 1 1 3 1 2 2 1 3 1 3 2 7 9"/>
<path d="M0 1.500H37" stroke-dasharray="1 5 1 1 1 2 3 1 2 3 1 1 2 1 3 2 1 5 1 9"/>
<path d="M0 2.500H37" stroke-dasharray="1 1 3 1 1 1 2 1 1 2 4 1 1 1 2 2 2 3 1 1 3 1 1 9"/>
<path d="M0 3.500H37" stroke-dasharray="1 1 3 1 1 1 3 2 1 1 2 1 3 1 1 2 3 2 1 1 3 1 1 9"/>
<path d="M0 4.500H37" stroke-dasharray="1 1 3 1 1 1 1 3 2 1 1 2 2 1 3 2 2 2 1 1 3 1 1 9"/>
<path d="M0 5.500H37" stroke-dasharray="1 5 1 1 2 1 3 2 1 1 1 2 4 1 3 1 1 5 1 9"/>
<path d="M0 6.500H37" stroke-dasharray="7 1 1 1 1 1 1 1 1 1 1 1 1 1 1 1 1 1 1 1 1 1 1 1 1 1 7 9"/>
<path d="M0 7.500H37" stroke-dasharray="0 8 2 2 1 1 3 1 2 3 1 1 4 8"/>
<path d="M0 8.500H37" stroke-dasharray="0 3 1 2 1 2 3 3 2 1 1 3 2 1 4 2 3 3 2 9"/>
<path d="M0 9.500H37" stroke-dasharray="2 1 1 3 1 1 2 1 2 1 1 2 3 1 1 1 2 2 1 2 1 2 3 9"/>
<path d="M0 10.500H37" stroke-dasharray="1 2 3 1 1 2 1 1 3 2 1 1 1 1 2 3 1 1 2 1 3 1 3"/>
<path d="M0 11.500H37" stroke-dasharray="2 1 2 1 4 1 2 1 1 1 3 2 1 2 2 1 1 2 3 1 2 2 1"/>
<path d="M0 12.500H37" stroke-dasharray="1 1 1 2 2 1 5 1 1 2 1 1 2 2 1 1 3 1 1 1 4 2"/>
<path d="M0 13.500H37" stroke-dasharray="3 2 1 1 2 2 1 1 3 1 1 1 2 1 2 2 1 2 3 1 1 1 1"/>
<path d="M0 14.500H37" stroke-dasharray="1 1 2 1 1 3 2 1 1 2 1 2 1 1 1 3 1 2 4 1 1 2"/>
<path d="M0 15.500H37" stroke-dasharray="2 3 3 1 1 1 1 1 2 1 3 1 1 3 1 1 2 1 1 2 3 1"/>
<path d="M0 16.500H37" stroke-dasharray="1 1 4 2 1 2 2 1 1 1 3 2 1 1 2 2 2 1 3 1 1 1"/>
<path d="M0 17.500H37" stroke-dasharray="3 1 1 2 3 1 1 2 2 1 1 3 4 1 1 2 1 1 1 1 1 1 2"/>
<path d="M0 18.500H37" stroke-dasharray="1 2 1 1 3 2 2 1 1 2 3 1 1 1 1 2 3 1 2 1 2 2"/>
<path d="M0 19.500H37" stroke-dasharray="2 1 3 1 1 2 1 3 1 1 1 1 2 3 2 1 1 1 3 1 3 1"/>
<path d="M0 20.500H37" stroke-dasharray="1 3 2 1 2 1 1 2 3 1 2 1 1 2 1 2 2 2 1 1 1 2 2"/>
<path d="M0 21.500H37" stroke-dasharray="2 1 1 1 2 2 3 1 1 3 1 1 2 1 1 1 4 1 1 2 2 2"/>
<path d="M0 22.500H37" stroke-dasharray="1 1 2 2 1 1 1 2 4 1 1 2 1 1 2 3 1 1 3 1 1 2"/>
<path d="M0 23.500H37" stroke-dasharray="3 2 1 1 1 1 2 3 1 1 2 1 1 3 2 1 2 1 1 2 3 1"/>
<path d="M0 24.500H37" stroke-dasharray="1 2 2 1 3 1 1 1 1 2 3 1 2 1 1 2 1 2 2 1 1 2 2"/>
<path d="M0 25.500H37" stroke-dasharray="2 1 1 3 1 2 3 1 2 1 1 3 1 1 3 1 1 2 1 1 4 1"/>
<path d="M0 26.500H37" stroke-dasharray="1 1 3 1 2 1 1 2 1 1 4 1 2 2 1 1 2 1 3 2 1 1"/>
<path d="M0 27.500H37" stroke-dasharray="4 2 1 1 1 3 2 1 1 2 1 1 1 2 3 1 1 2 2 1 2 2"/>
<path d="M0 28.500H37" stroke-dasharray="1 1 1 2 3 1 1 1 2 1 3 2 1 1 1 2 2 1 3 1 3 2"/>
<path d="M0 29.500H37" stroke-dasharray="0 8 1 2 3 1 2 1 1 3 2 2 1 1 4 3 2 9"/>
<path d="M0 30.500H37" stroke-dasharray="7 1 2 1 1 2 3 1 1 3 2 1 1 1 3 2 2 2 1 9"/>
<path d="M0 31.500H37" stroke-dasharray="1 5 1 1 1 2 2 1 1 1 3 2 1 2 1 1 2 2 1 1 3 9"/>
<path d="M0 32.500H37" stroke-dasharray="1 1 3 1 1 1 3 1 1 2 1 1 2 1 3 1 1 2 3 1 1 9"/>
<path d="M0 33.500H37" stroke-dasharray="1 1 3 1 1 1 1 1 3 2 2 1 1 1 1 3 2 1 1 2 2 1 1 9"/>
<path d="M0 34.500H37" stroke-dasharray="1 1 3 1 1 1 2 2 1 1 3 2 1 1 2 1 1 2 3 1 1 1 1 9"/>
<path d="M0 35.500H37" stroke-dasharray="1 5 1 1 3 1 2 2 1 1 1 1 3 1 2 2 1 2 1 1 2 9"/>
<path d="M0 36.500H37" stroke-dasharray="7 1 1 2 1 3 4 1 1 2 2 1 1 2 1 3 2 1 3 9"/>
<rect x="28" y="28" width="5" height="5" fill="#fff" stroke="none"/><rect x="28.500" y="28.500" width="4" height="4"/><rect x="30" y="30" width="1" height="1" fill="#000" stroke="none"/>
</g>
<rect x="1233" y="7147" width="109" height="113" rx="10" fill="#fff" stroke="#e0e0e0" stroke-width="2"/>
<g fill="#3b6fd8"><rect x="1265" y="7167" width="16" height="6"/><rect x="1265" y="7185" width="16" height="6"/><rect x="1272" y="7176" width="14" height="6"/><rect x="1265" y="7195" width="16" height="6"/><rect x="1265" y="7204" width="16" height="6"/></g>
<g fill="#19c3d6"><rect x="1283" y="7167" width="12" height="6"/><rect x="1289" y="7176" width="20" height="6"/><rect x="1283" y="7185" width="26" height="6"/><rect x="1287" y="7195" width="20" height="6"/><rect x="1283" y="7204" width="12" height="6"/></g>
<text x="1287" y="7229" style="font-size:15px;fill:#555;text-anchor:middle">OpenBMB</text>
<rect x="1028" y="7470" width="3" height="31" fill="#7b9fe8"/>
<text x="1049" y="7485" style="font-size:24px;fill:#8f959e" textLength="774">扫码关注、私信后台”论文速读“，即可领取论文学习高清导图和FreeMind</text>
</g>
</g>
</svg>
